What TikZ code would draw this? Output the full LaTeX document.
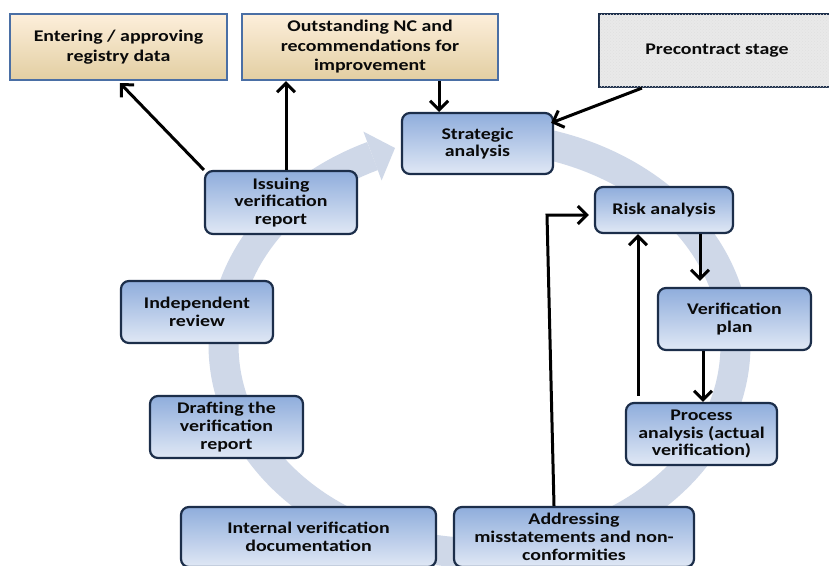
\documentclass[tikz,border=0pt]{standalone}
\usepackage{fontspec}
\setmainfont{Carlito}[FakeStretch=1.22]
\usetikzlibrary{arrows.meta,calc,patterns}
\definecolor{ringc}{HTML}{CFD8E8}
\definecolor{bluetop}{HTML}{8FADDC}
\definecolor{bluebot}{HTML}{E0E8F5}
\definecolor{navy}{HTML}{1C2E4A}
\definecolor{tantop}{HTML}{FDEFDB}
\definecolor{tanbot}{HTML}{E2CEA2}
\definecolor{tanedge}{HTML}{4A6FA5}
\definecolor{greyfill}{HTML}{E9E9E9}
\definecolor{txt}{HTML}{0A0A0A}
\tikzset{
  bluebox/.style={draw=navy, line width=2.2pt, rounded corners=8pt,
    top color=bluetop, bottom color=bluebot, align=center, inner sep=0pt,
    text=txt, font=\bfseries\fontsize{16.3}{17.8}\selectfont},
  tanbox/.style={draw=tanedge, line width=2.2pt,
    top color=tantop, bottom color=tanbot, align=center, inner sep=0pt,
    text=txt, font=\bfseries\fontsize{16.3}{19.5}\selectfont},
  greybox/.style={draw=navy, line width=2.2pt, fill=greyfill,
    postaction={pattern=crosshatch dots, pattern color=black!12},
    align=center, inner sep=0pt, text=txt,
    font=\bfseries\fontsize{16.3}{19}\selectfont},
  flow/.style={draw=black, line width=3pt,
    -{Straight Barb[length=9pt,width=18pt]}}
}
\begin{document}
\begin{tikzpicture}[x=1pt,y=-1pt]
\clip (0,0) rectangle (829,565);
\fill[white] (0,0) rectangle (829,565);
% ring arrow
\draw[ringc, line width=30pt] plot[domain=-80:245.3, samples=160, smooth]
  ({479.5+256*cos(\x)}, {345+208*sin(\x)});
\fill[ringc] (381.6,180.4) -- (395,148) -- (363.4,131.6) -- cycle;
% boxes
\node[tanbox, minimum width=217pt, minimum height=66pt] (ent) at (118.5,47)
  {Entering / approving\\registry data};
\node[tanbox, minimum width=256pt, minimum height=66pt] (out) at (370,47)
  {Outstanding NC and\\recommendations for\\improvement};
\node[greybox, minimum width=236pt, minimum height=73pt] (pre) at (717,50.5)
  {Precontract stage};
\node[bluebox, minimum width=151pt, minimum height=61pt] (str) at (477.5,143.5)
  {Strategic\\analysis};
\node[bluebox, minimum width=138pt, minimum height=46pt] (risk) at (664,210)
  {Risk analysis};
\node[bluebox, minimum width=153pt, minimum height=62pt] (plan) at (734.5,319)
  {Verification\\plan};
\node[bluebox, minimum width=151pt, minimum height=62pt] (proc) at (701.5,434)
  {Process\\analysis (actual\\verification)};
\node[bluebox, minimum width=240pt, minimum height=60pt] (addr) at (574,537)
  {Addressing\\misstatements and non-\\conformities};
\node[bluebox, minimum width=255pt, minimum height=60pt] (intd) at (308.5,537)
  {Internal verification\\documentation};
\node[bluebox, minimum width=153pt, minimum height=62pt] (draft) at (226.5,427)
  {Drafting the\\verification\\report};
\node[bluebox, minimum width=152pt, minimum height=62pt] (indep) at (197,312)
  {Independent\\review};
\node[bluebox, minimum width=152pt, minimum height=63pt] (iss) at (281,202.5)
  {Issuing\\verification\\report};
% connectors
\coordinate (issTop) at ($(iss.north)+(5,0)$);
\coordinate (outBot) at ($(out.south east)+(-60,0)$);
\coordinate (preBot) at ($(pre.south west)+(44,0)$);
\coordinate (riskBot) at ($(risk.south)+(36,0)$);
\coordinate (planBot) at ($(plan.south)+(-31.5,0)$);
\coordinate (procTop) at ($(proc.north)+(-63.5,-6)$);
\coordinate (addrTop) at ($(addr.north)+(-20,0)$);
\coordinate (bend) at (547,215);
\draw[flow] (iss.north west) -- ($(ent.south)+(1.5,2)$);
\draw[flow] (issTop) -- (issTop |- out.south);
\draw[flow] (outBot) -- (outBot |- str.north);
\draw[flow] (preBot) -- ($(str.north east)+(-3,11)$);
\draw[flow, shorten >=6pt] (riskBot) -- (riskBot |- plan.north);
\draw[flow] (planBot) -- (planBot |- proc.north);
\draw[flow] (procTop) -- (procTop |- risk.south);
\draw[flow, shorten >=5pt] (addrTop) -- (bend) -- (bend -| risk.west);
\end{tikzpicture}
\end{document}
